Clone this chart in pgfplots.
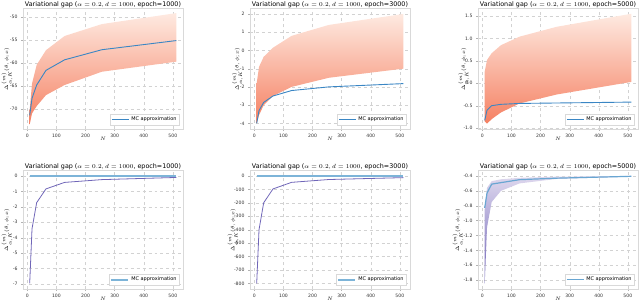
\documentclass[border=0pt]{standalone}
\usepackage{pgfplots}
\pgfplotsset{compat=1.18}
\usepackage{fontspec}
\setmainfont{DejaVu Sans}
\definecolor{mcblue}{RGB}{58,134,196}
\definecolor{mclight}{RGB}{125,180,216}
\definecolor{redtop}{RGB}{254,234,225}
\definecolor{redbot}{RGB}{245,128,98}
\definecolor{purptop}{RGB}{222,216,238}
\definecolor{purpbot}{RGB}{110,98,182}
\definecolor{purpline}{RGB}{112,102,184}
\pgfplotsset{
 every axis title shift=0pt,
 gap/.style={scale only axis, width=160bp, height=120.5bp, anchor=south west,
  xmin=-15, xmax=535, xtick={0,100,200,300,400,500},
  grid=major, grid style={dashed, gray!35, line width=0.3pt},
  axis line style={gray!30}, tick style={gray!60, line width=0.3pt},
  major tick length=2bp, tick align=outside, tick pos=left,
  ticklabel style={font=\fontsize{4.6}{5.5}\selectfont, text=black!80},
  /pgf/number format/assume math mode=true, scaled ticks=false,
  title style={font=\fontsize{6.4}{7}\selectfont, at={(0.5,1)}, anchor=base, yshift=1.8bp},
  xlabel={$N$}, xlabel style={font=\fontsize{5.5}{6}\selectfont, yshift=7.5bp},
  ylabel={$\Delta^{(m)}_{\alpha,K}(\theta,\phi;x)$},
  ylabel style={font=\fontsize{5}{6}\selectfont},
  legend style={font=\fontsize{5}{6}\selectfont, at={(0.98,0.03)}, anchor=south east,
   draw=gray!30, fill=white, inner sep=1pt, row sep=-1pt},
  legend cell align=left,
 },
 bot/.style={height=118.5bp},
 yl/.style={every axis y label/.append style={at={(axis description cs:#1,0.5)}, anchor=center}},
}
\begin{document}
\begin{tikzpicture}[x=1bp,y=1bp]
\useasboundingbox (0,0) rectangle (640,304);
% ---------- top left
\begin{axis}[gap, yl=-0.1, at={(23bp,175bp)}, ymin=-74.4, ymax=-48.1, ytick={-70,-65,-60,-55,-50},
 title={Variational gap ($\alpha=0.2, d=1000$, epoch=1000)}]
\addplot[top color=redtop, bottom color=redbot, draw=none, forget plot] coordinates {(8,-70.3)(16,-64.5)(32,-60.4)(64,-57.2)(128,-54.1)(256,-51.5)(512,-49.1)
 (512,-59.7)(256,-61.9)(128,-64.8)(64,-67.0)(32,-69.4)(16,-71.0)(8,-73.4)} -- cycle;
\addplot[mcblue, line width=0.9pt] coordinates {(8,-71.4)(16,-67.7)(32,-64.8)(64,-61.6)(128,-59.3)(256,-57.1)(512,-55.1)};
\addlegendentry{MC approximation}
\end{axis}
% ---------- top middle
\begin{axis}[gap, yl=-0.078, at={(250bp,175bp)}, ymin=-4.31, ymax=2.3, ytick={-4,-3,-2,-1,0,1,2},
 title={Variational gap ($\alpha=0.2, d=1000$, epoch=3000)}]
\addplot[top color=redtop, bottom color=redbot, draw=none, forget plot] coordinates {(8,-1.8)(16,-0.9)(32,-0.35)(64,0.15)(128,0.8)(256,1.4)(512,2.0)
 (512,-1.0)(256,-1.5)(128,-2.0)(64,-2.5)(32,-3.0)(16,-3.55)(8,-4.0)} -- cycle;
\addplot[mcblue, line width=0.9pt] coordinates {(8,-4.0)(16,-3.3)(32,-2.85)(64,-2.5)(128,-2.2)(256,-2.0)(512,-1.82)};
\addlegendentry{MC approximation}
\end{axis}
% ---------- top right
\begin{axis}[gap, yl=-0.088, at={(478bp,175bp)}, ymin=-1.02, ymax=1.667, ytick={-1,-0.5,0,0.5,1,1.5},
 yticklabel style={/pgf/number format/.cd, fixed, fixed zerofill, precision=1},
 title={Variational gap ($\alpha=0.2, d=1000$, epoch=5000)}]
\addplot[top color=redtop, bottom color=redbot, draw=none, forget plot] coordinates {(8,0.26)(16,0.52)(32,0.67)(64,0.85)(128,1.04)(256,1.26)(512,1.55)
 (512,0.03)(256,-0.25)(128,-0.45)(64,-0.65)(32,-0.8)(16,-0.9)(8,-0.85)} -- cycle;
\addplot[mcblue, line width=0.9pt] coordinates {(8,-0.83)(16,-0.6)(32,-0.5)(64,-0.47)(128,-0.45)(256,-0.44)(512,-0.42)};
\addlegendentry{MC approximation}
\end{axis}
% ---------- bottom left
\begin{axis}[gap, bot, yl=-0.1, at={(23bp,15bp)}, ymin=-7.32, ymax=0.35, ytick={-7,-6,-5,-4,-3,-2,-1,0},
 title={Variational gap ($\alpha=0.2, d=1000$, epoch=1000)}]
\addplot[purpline, line width=0.8pt, forget plot] coordinates {(8,-6.96)(16,-3.42)(32,-1.73)(64,-0.84)(128,-0.42)(256,-0.24)(512,-0.1)};
\addplot[mclight, line width=2pt] coordinates {(8,0)(16,0)(32,0)(64,0)(128,0)(256,0)(512,0)};
\addlegendentry{MC approximation}
\end{axis}
% ---------- bottom middle
\begin{axis}[gap, bot, yl=-0.105, at={(250bp,15bp)}, ymin=-841, ymax=40, ytick={-800,-700,-600,-500,-400,-300,-200,-100,0},
 title={Variational gap ($\alpha=0.2, d=1000$, epoch=3000)}]
\addplot[purpline, line width=0.8pt, forget plot] coordinates {(8,-800)(16,-400)(32,-200)(64,-97)(128,-48)(256,-27)(512,-13)};
\addplot[mclight, line width=2pt] coordinates {(8,0)(16,0)(32,0)(64,0)(128,0)(256,0)(512,0)};
\addlegendentry{MC approximation}
\end{axis}
% ---------- bottom right
\begin{axis}[gap, bot, yl=-0.125, at={(478bp,15bp)}, ymin=-1.919, ymax=-0.327, ytick={-1.8,-1.6,-1.4,-1.2,-1.0,-0.8,-0.6,-0.4},
 yticklabel style={/pgf/number format/.cd, fixed, fixed zerofill, precision=1},
 title={Variational gap ($\alpha=0.2, d=1000$, epoch=5000)}]
\addplot[top color=purptop, bottom color=purpbot, draw=none, forget plot] coordinates {(8,-0.85)(16,-0.56)(32,-0.47)(64,-0.445)(128,-0.425)(256,-0.41)(512,-0.40)
 (512,-0.41)(256,-0.44)(128,-0.5)(64,-0.6)(32,-0.75)(16,-1.09)(8,-1.85)} -- cycle;
\addplot[mclight!70!mcblue, line width=1.2pt] coordinates {(8,-0.83)(16,-0.63)(32,-0.51)(64,-0.49)(128,-0.45)(256,-0.43)(512,-0.405)};
\addlegendentry{MC approximation}
\end{axis}
\end{tikzpicture}
\end{document}
